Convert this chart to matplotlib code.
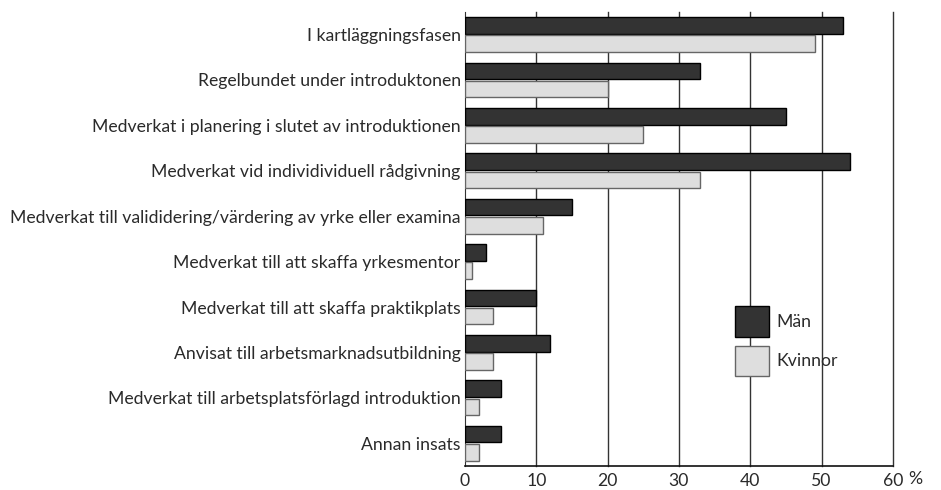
import matplotlib
matplotlib.use("Agg")
import matplotlib.pyplot as plt
import numpy as np

categories = [
    "I kartläggningsfasen",
    "Regelbundet under introduktonen",
    "Medverkat i planering i slutet av introduktionen",
    "Medverkat vid individividuell rådgivning",
    "Medverkat till valididering/värdering av yrke eller examina",
    "Medverkat till att skaffa yrkesmentor",
    "Medverkat till att skaffa praktikplats",
    "Anvisat till arbetsmarknadsutbildning",
    "Medverkat till arbetsplatsförlagd introduktion",
    "Annan insats",
]
man = [53, 33, 45, 54, 15, 3, 10, 12, 5, 5]
kvinnor = [49, 20, 25, 33, 11, 1, 4, 4, 2, 2]
xticks = [0, 10, 20, 30, 40, 50, 60]

plt.rcParams["font.family"] = ["Lato", "DejaVu Sans"]

fig = plt.figure(figsize=(9.41, 4.9), dpi=100)
ax = fig.add_axes([0.494, 0.049, 0.455, 0.927])

y = np.arange(len(categories))
h = 0.365
ax.barh(y - 0.2, man, height=h, color="#333333", edgecolor="#000000",
        linewidth=1, label="Män", zorder=3)
ax.barh(y + 0.2, kvinnor, height=h, color="#dedede", edgecolor="#666666",
        linewidth=1, label="Kvinnor", zorder=3)

ax.set_ylim(len(categories) - 0.5, -0.5)
ax.set_xlim(0, 60)
ax.set_yticks(y)
ax.set_yticklabels(categories, fontsize=12.7, color="#2a2a2a")
ax.set_xticks(xticks)
ax.set_xticklabels([str(t) for t in xticks], fontsize=12.7, color="#2a2a2a")
ax.tick_params(axis="both", length=0, pad=3)
ax.tick_params(axis="x", pad=5)

for t in xticks[1:]:
    ax.axvline(t, color="#333333", linewidth=1, zorder=1, clip_on=False)

for s in ["top", "right"]:
    ax.spines[s].set_visible(False)
ax.spines["left"].set_color("#333333")
ax.spines["bottom"].set_color("#111111")
ax.spines["bottom"].set_linewidth(1.2)

ax.text(1.035, -0.01, "%", transform=ax.transAxes, fontsize=12.7,
        color="#2a2a2a", va="top", ha="left")

leg = ax.legend(loc="upper left", bbox_to_anchor=(0.631, 0.352), frameon=False,
                borderpad=0, borderaxespad=0, handlelength=1.9, handleheight=2.3,
                labelspacing=0.5, handletextpad=0.45, fontsize=12.7)
for t in leg.get_texts():
    t.set_color("#2a2a2a")

fig.savefig("out.png", dpi=100)
